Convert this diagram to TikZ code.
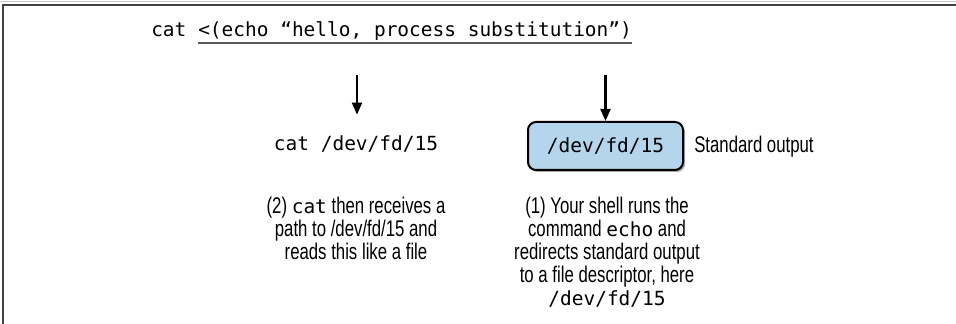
\documentclass[tikz,border=0pt]{standalone}
\usepackage{fontspec}
\setmainfont{Liberation Sans}[FakeStretch=0.74]
\setmonofont{DejaVu Sans Mono}
\usetikzlibrary{shadows,arrows.meta}
\definecolor{boxblue}{RGB}{180,213,235}
\definecolor{framegray}{RGB}{64,64,64}
\definecolor{framelight}{RGB}{200,200,200}
\definecolor{ulgray}{RGB}{90,90,90}
\newcommand\mytt[1]{{\ttfamily\fontsize{14.6pt}{17.25pt}\selectfont #1}}
\begin{document}
\begin{tikzpicture}[x=0.75pt,y=-0.75pt,
  code/.style={font=\fontsize{14.6pt}{17.25pt}\selectfont\ttfamily, inner sep=0pt},
  txt/.style={font=\fontsize{17pt}{17.25pt}\selectfont, inner sep=0pt, align=center},
  arr/.style={-{Triangle[length=9pt,width=7.5pt]}, line width=1.6pt},
  fdbox/.style={draw=black, line width=1.5pt, fill=boxblue, rounded corners=6pt,
    minimum width=116.25pt, minimum height=36pt,
    drop shadow={shadow xshift=1.5pt, shadow yshift=-1.5pt, fill=black, opacity=0.35}}]
\useasboundingbox (0,0) rectangle (956,324);
% frame
\draw[framelight, line width=0.75pt] (0,1.5) -- (956,1.5);
\draw[framegray, line width=1.5pt] (3,324) -- (3,5) -- (956,5);
% command line
\node[code, anchor=base west] (cmd) at (151,37) {cat};
\node[code, anchor=base west] (sub) at (198,37) {<(echo “hello, process substitution”)};
\draw[ulgray, line width=1.1pt] ([yshift=-4.5pt]sub.base west) -- ([yshift=-4.5pt]sub.base east);
% nodes
\node[code, anchor=base] (catfd) at (356,151) {cat /dev/fd/15};
\node[fdbox, code] (fd) at (605.5,146) {/dev/fd/15};
\node[txt, anchor=base west] (so) at ([xshift=7.5pt]fd.base east) {Standard output};
% arrows
\coordinate (a1) at (357,75);
\coordinate (a2) at (605.5,75);
\draw[arr, shorten >=16pt] (a1) -- (a1 |- catfd.north);
\draw[arr] (a2) -- (fd.north);
% captions (base anchor = baseline of the last line)
\node[txt, anchor=base] (n2) at (356,259) {(2) \mytt{cat} then receives a\\ path to /dev/fd/15 and\\ reads this like a file};
\node[txt, anchor=base] (n1) at (607,305) {(1) Your shell runs the\\ command \mytt{echo} and\\ redirects standard output\\ to a file descriptor, here\\ \mytt{/dev/fd/15}};
\end{tikzpicture}
\end{document}
